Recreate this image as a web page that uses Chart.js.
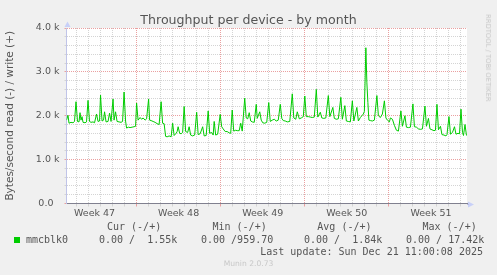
<!DOCTYPE html>
<html>
<head>
<meta charset="utf-8">
<script src="https://cdn.jsdelivr.net/npm/chart.js@4.4.1/dist/chart.umd.min.js"></script>
<style>
  html, body { margin: 0; padding: 0; background: #f0f0f0; }
  #wrap { position: relative; width: 497px; height: 275px; overflow: hidden; }
  canvas { position: absolute; left: 0; top: 0; }
  .t { position: absolute; white-space: pre; color: #555; line-height: 12px; }
  .sans { font-family: "DejaVu Sans", sans-serif; }
  .mono { font-family: "DejaVu Sans Mono", monospace; font-size: 10px; }
</style>
</head>
<body>
<div id="wrap">
  <canvas id="c" width="497" height="275"></canvas>
  <div class="t sans" id="title" style="left:0;width:497px;text-align:center;top:12px;font-size:12.6px;line-height:15px;"></div>
  <div class="t sans" id="rrd" style="left:488px;top:58px;font-size:6.8px;color:#c8c8c8;transform:translate(-50%,-50%) rotate(90deg);"></div>
  <div id="legend"></div>
  <div class="t sans" id="ver" style="left:0;width:497px;text-align:center;top:258px;font-size:7.6px;color:#c8c8c8;"></div>
</div>
<script>
// hours since Mon 17 Nov 00:00 (start of week 47)
let hours = [
  28,31,33,37,41,44,47,50,53,55,
  57,59,61,65,68,71,74,77,81,84,
  88,91,94,96,99,102,104,107,111,114,
  117,121,123,126,129,133,137,140,143,146,
  148,152,155,159,163,166,168,171,175,178,
  181,185,188,192,194,197,201,205,209,213,
  217,220,223,226,229,233,237,240,243,247,
  249,251,254,257,260,263,266,270,273,276,
  280,284,288,291,295,300,303,307,311,314,
  318,321,323,326,330,335,338,341,345,349,
  353,356,359,362,366,369,373,376,379,384,
  387,390,393,396,399,403,407,409,414,417,
  420,424,428,432,435,439,443,447,451,455,
  458,461,465,469,474,479,482,486,489,493,
  497,501,504,507,511,515,519,523,527,530,
  535,538,542,546,551,554,560,563,567,571,
  576,579,584,587,591,595,599,602,608,611,
  615,618,621,623,626,628,630,632,635,639,
  643,648,651,655,659,663,666,669,673,675,
  679,683,687,691,696,699,704,707,711,715,
  720,723,727,731,735,739,744,747,751,754,
  758,762,765,768,771,775,778,782,786,788,
  792,795,799,803,806,810,813,816,819,821,
  824,827
];

// write bytes/second for mmcblk0
let writeBps = [
  1900,2010,1830,1850,1840,1870,2320,1870,1860,2070,
  1900,1980,1850,1840,1860,2350,1870,1850,1860,1840,
  2040,1870,1880,2470,1880,1900,2090,1860,1870,2060,
  1870,2380,1900,2090,1870,1860,1850,1870,2540,1880,
  1720,1740,1730,1740,1750,1760,2290,1900,1960,1920,
  1950,1900,1930,2380,1900,1890,1870,1850,1820,1800,
  2320,1830,1820,1530,1520,1540,1520,1830,1550,1600,
  1640,1750,1600,1590,1620,2210,1640,1620,1750,1560,
  1540,1560,2080,1570,1590,1750,1540,1550,2110,1600,
  1620,1560,1870,1560,1580,2030,1750,1700,1640,1640,
  1610,1600,2130,1650,1670,1660,1660,1830,1650,2400,
  1950,1930,2070,1880,1860,1850,2260,1940,2090,1900,
  1840,1830,1850,2300,1870,1900,1920,1880,1900,2260,
  1940,1890,1880,1860,1870,2500,1950,1920,2090,1930,
  1950,1980,2450,1980,1980,1970,1960,1970,2600,1970,
  2080,1950,1940,1950,2460,1980,2190,1940,1920,1930,
  2420,1920,2230,1880,1870,1860,2340,1880,2190,1880,
  1960,2000,2040,2100,3550,2750,2300,1900,1890,1880,
  1900,2460,2000,1960,2040,2340,1950,1900,1860,1950,
  1920,1780,1670,1650,2110,1760,2000,1740,1730,1740,
  2270,1750,1740,1700,1690,1700,2220,1760,1940,1700,
  1680,1660,1670,2260,1680,1760,1570,1560,1540,1570,
  1980,1580,1620,1750,1580,1600,1590,2150,1620,1550,
  1800,1550
];

let weekLabels = ['Week 47', 'Week 48', 'Week 49', 'Week 50', 'Week 51'];
let yTickLabels = ['0.0', '1.0 k', '2.0 k', '3.0 k', '4.0 k'];

let legendHeaders = ['Cur (-/+)', 'Min (-/+)', 'Avg (-/+)', 'Max (-/+)'];
let legendValues = ['0.00 /  1.55k', '0.00 /959.70', '0.00 /  1.84k', '0.00 / 17.42k'];
let seriesName = 'mmcblk0';
let lastUpdate = 'Last update: Sun Dec 21 11:00:08 2025';

document.getElementById('title').textContent = 'Throughput per device - by month';
document.getElementById('rrd').textContent = 'RRDTOOL / TOBI OETIKER';
document.getElementById('ver').textContent = 'Munin 2.0.73';

// legend
let headerX = [107, 212.5, 317.3, 422.5];
let valueX = [99, 201, 304, 406];
let lg = document.getElementById('legend');
let html = '';
legendHeaders.forEach((h, i) => {
  html += `<div class="t mono" style="left:${headerX[i]}px;top:221px">${h}</div>`;
});
html += `<div style="position:absolute;left:14px;top:237px;width:6px;height:6px;background:#00cc00"></div>`;
html += `<div class="t mono" style="left:26px;top:234px">${seriesName}</div>`;
legendValues.forEach((v, i) => {
  html += `<div class="t mono" style="left:${valueX[i]}px;top:234px">${v}</div>`;
});
html += `<div class="t mono" style="right:14px;top:246px">${lastUpdate}</div>`;
lg.innerHTML = html;

let muninBits = {
  id: 'muninBits',
  beforeDraw(chart) {
    let { ctx, chartArea: a } = chart;
    ctx.save();
    ctx.fillStyle = '#ffffff';
    ctx.fillRect(a.left, a.top, a.right - a.left, a.bottom - a.top);
    ctx.restore();
  },
  afterDraw(chart) {
    let { ctx, chartArea: a } = chart;
    ctx.save();
    ctx.fillStyle = '#c8d0f8';
    // y arrow
    let xl = Math.round(a.left) + 0.5;
    ctx.beginPath();
    ctx.moveTo(xl, a.top - 6.5);
    ctx.lineTo(xl - 3, a.top - 1);
    ctx.lineTo(xl + 3, a.top - 1);
    ctx.closePath();
    ctx.fill();
    // x arrow
    let yb = Math.round(a.bottom) + 0.5;
    ctx.beginPath();
    ctx.moveTo(a.right + 7, yb);
    ctx.lineTo(a.right + 1, yb - 3);
    ctx.lineTo(a.right + 1, yb + 3);
    ctx.closePath();
    ctx.fill();
    ctx.strokeStyle = '#b8bce0';
    ctx.lineWidth = 1;
    ctx.beginPath();
    ctx.moveTo(a.right, yb);
    ctx.lineTo(a.right + 2, yb);
    ctx.stroke();
    ctx.restore();
  }
};

let majorGrid = '#eaa0a0';
let minorGrid = '#d4d4d4';

new Chart(document.getElementById('c'), {
  type: 'line',
  data: {
    datasets: [{
      label: seriesName,
      data: hours.map((h, i) => ({ x: h, y: writeBps[i] })),
      borderColor: '#00cc00',
      borderWidth: 1,
      pointRadius: 0,
      tension: 0,
      fill: false
    }]
  },
  options: {
    responsive: false,
    animation: false,
    devicePixelRatio: 1,
    layout: { padding: { left: 0, top: 28, right: 30, bottom: 51.5 } },
    plugins: { legend: { display: false }, tooltip: { enabled: false } },
    events: [],
    scales: {
      x: {
        type: 'linear',
        min: 28,
        max: 828,
        afterFit: (axis) => { axis.height = 20; },
        border: { display: true, color: '#80808f', width: 1, dash: [1, 1] },
        grid: {
          drawTicks: true,
          tickLength: 3,
          color: (ctx) => {
            let v = Math.round(ctx.tick.value);
            if (v % 168 === 0) return majorGrid;
            if (v % 24 === 0) return minorGrid;
            return 'rgba(0,0,0,0)';
          }
        },
        ticks: {
          stepSize: 12,
          autoSkip: false,
          maxRotation: 0,
          minRotation: 0,
          padding: 1,
          color: '#555',
          font: { family: 'DejaVu Sans', size: 9.5 },
          callback: (value) => {
            let v = Math.round(value);
            if ((v - 84) % 168 === 0) return weekLabels[(v - 84) / 168] || '';
            return '';
          }
        }
      },
      y: {
        min: 0,
        max: 4000,
        afterFit: (axis) => { axis.width = 66.5; },
        border: { display: true, color: '#c0c4e8', width: 1, dash: [1, 1] },
        grid: {
          drawTicks: true,
          tickLength: 2,
          color: (ctx) => (ctx.tick.value % 1000 === 0 ? majorGrid : minorGrid)
        },
        ticks: {
          stepSize: 200,
          autoSkip: false,
          padding: 5,
          color: '#555',
          font: { family: 'DejaVu Sans', size: 9.5 },
          callback: (value) => (value % 1000 === 0 ? yTickLabels[value / 1000] + (value === 0 ? '  ' : '') : '')
        },
        title: {
          display: true,
          text: 'Bytes/second read (-) / write (+)',
          color: '#555',
          font: { family: 'DejaVu Sans', size: 10.5 },
          padding: { top: 4, bottom: 0 }
        }
      }
    }
  },
  plugins: [muninBits]
});
</script>
</body>
</html>
